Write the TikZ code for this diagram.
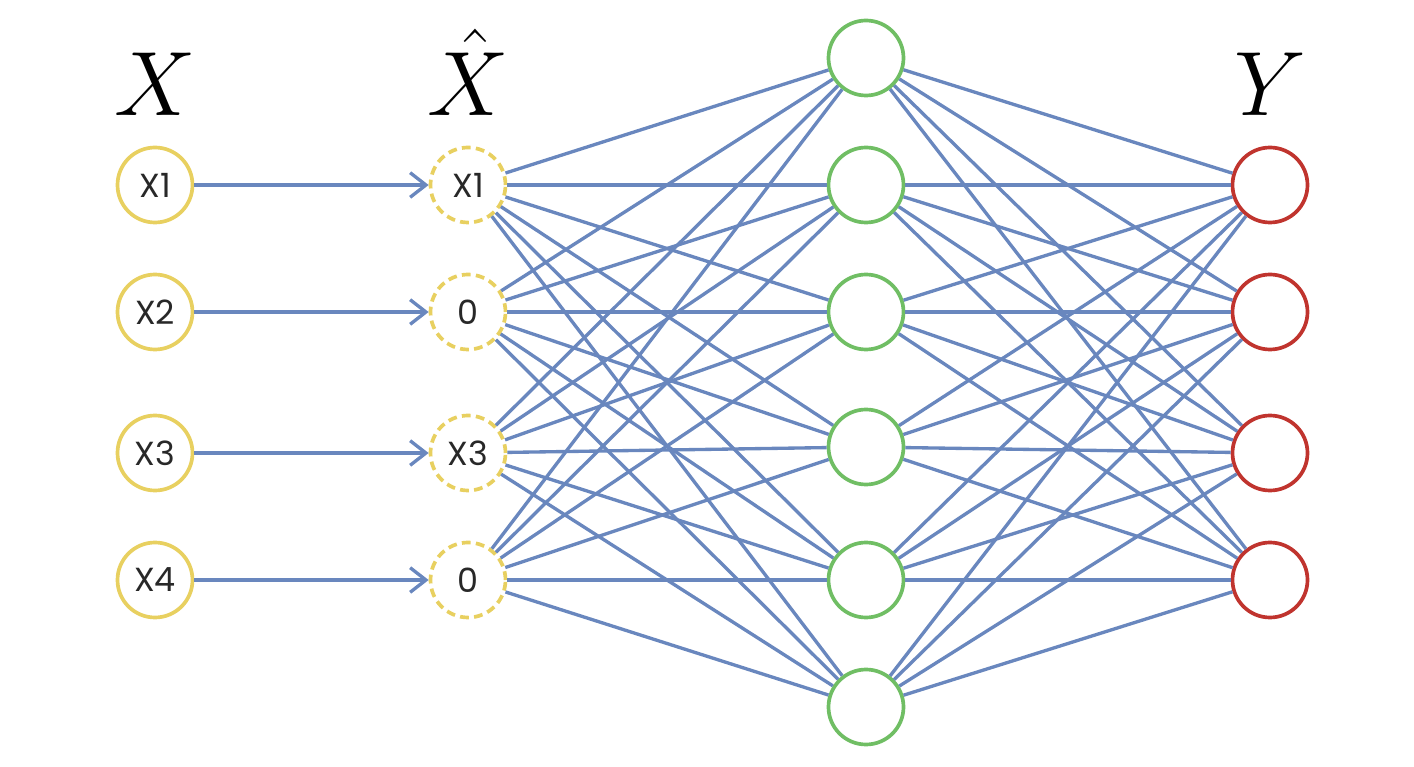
\documentclass[tikz,border=0pt]{standalone}
\usepackage{fix-cm}
\usepackage{fontspec}
\setsansfont{Poppins}
\usetikzlibrary{arrows.meta}

\definecolor{edgeblue}{RGB}{105,135,190}
\definecolor{inyellow}{RGB}{232,208,96}
\definecolor{hidgreen}{RGB}{112,190,100}
\definecolor{outred}{RGB}{192,52,46}
\definecolor{textgray}{RGB}{40,40,40}

\tikzset{
  neuron/.style={circle, draw, line width=2.1pt, fill=white, minimum size=1.5cm, inner sep=0pt,
    font=\sffamily\fontsize{19}{19}\selectfont, text=textgray},
  innode/.style={neuron, draw=inyellow},
  noisynode/.style={neuron, draw=inyellow, dash pattern=on 5pt off 3pt},
  hidnode/.style={neuron, draw=hidgreen},
  outnode/.style={neuron, draw=outred},
  link/.style={draw=edgeblue, line width=1.9pt},
  layerlabel/.style={anchor=base, font=\fontsize{52}{60}\selectfont}
}

\begin{document}
\begin{tikzpicture}
  \useasboundingbox (0,0) rectangle (28.28,15.32);

  % layer titles
  \node[layerlabel] (xlab) at (3.1,13.0) {$X$};
  \node[layerlabel] (xhlab) at (9.36,13.0) {$\hat{X}$};
  \node[layerlabel] (ylab) at (25.4,13.0) {$Y$};

  % input, corrupted input and output
  \foreach \i/\y/\t/\n in {1/11.62/X1/X1, 2/9.08/X2/0, 3/6.26/X3/X3, 4/3.72/X4/0} {
    \node[innode] (x\i) at (3.1,\y) {\t};
    \node[noisynode] (xh\i) at (9.36,\y) {\n};
    \node[outnode] (y\i) at (25.4,\y) {};
  }

  % hidden layer
  \foreach \j/\y in {1/14.16, 2/11.62, 3/9.08, 4/6.38, 5/3.72, 6/1.18}
    \node[hidnode] (h\j) at (17.32,\y) {};

  % connections
  \foreach \i in {1,...,4}
    \draw[link, -{Straight Barb[length=9pt, width=14pt]}] (x\i) -- (xh\i);
  \foreach \i in {1,...,4}
    \foreach \j in {1,...,6}
      \draw[link] (xh\i) -- (h\j);
  \foreach \j in {1,...,6}
    \foreach \k in {1,...,4}
      \draw[link] (h\j) -- (y\k);
\end{tikzpicture}
\end{document}
